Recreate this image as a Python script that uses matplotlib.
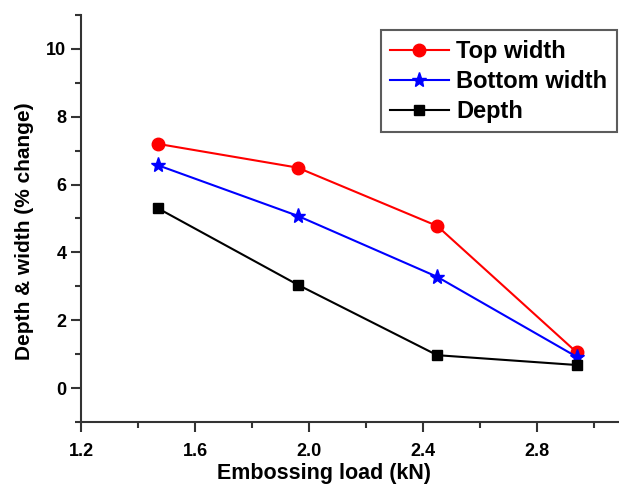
import matplotlib
matplotlib.use("Agg")
import matplotlib.pyplot as plt
from matplotlib.ticker import MultipleLocator

# embossing load (kN) and % change
load = [1.47, 1.96, 2.45, 2.94]
top_width = [7.2, 6.5, 4.78, 1.05]
bottom_width = [6.57, 5.08, 3.28, 0.92]
depth = [5.3, 3.05, 0.97, 0.68]

plt.rcParams['font.family'] = ['Liberation Sans', 'DejaVu Sans']
plt.rcParams['font.weight'] = 'bold'

fig = plt.figure(figsize=(6.19, 4.86), dpi=100)
ax = fig.add_axes([81 / 619, 64 / 486, 1 - 81 / 619, 407 / 486])

ax.plot(load, top_width, color='red', marker='o', markersize=9, lw=1.5, label='Top width')
ax.plot(load, bottom_width, color='blue', marker='*', markersize=11, lw=1.5, label='Bottom width')
ax.plot(load, depth, color='black', marker='s', markersize=7.5, lw=1.5, label='Depth')

ax.set_xlim(1.2, 3.088)
ax.set_ylim(-1, 11)
ax.xaxis.set_minor_locator(MultipleLocator(0.2))
ax.yaxis.set_minor_locator(MultipleLocator(1))
ax.set_xticks([1.2, 1.6, 2.0, 2.4, 2.8])
ax.set_yticks([0, 2, 4, 6, 8, 10])

for s in ['top', 'right']:
    ax.spines[s].set_visible(False)
for s in ['left', 'bottom']:
    ax.spines[s].set_linewidth(1.5)
    ax.spines[s].set_color('#333333')

ax.tick_params(which='major', direction='out', length=7, width=1.5, labelsize=13, colors='#333333', labelcolor='black')
ax.tick_params(axis='x', which='major', pad=8)
ax.tick_params(which='minor', direction='out', length=4, width=1.5, colors='#333333')
for lab in ax.get_xticklabels() + ax.get_yticklabels():
    lab.set_fontweight('bold')

# reference crops the x label at the bottom edge; keep it just inside
ax.set_xlabel('Embossing load (kN)', fontsize=15.5, fontweight='bold')
ax.set_ylabel('Depth & width (% change)', fontsize=15, fontweight='bold')
ax.xaxis.set_label_coords(0.452, -0.1)
ax.yaxis.set_label_coords(-0.088, 0.469)

leg = ax.legend(loc='upper right', bbox_to_anchor=(1.0, 0.968), fontsize=17, frameon=True,
                fancybox=False, edgecolor='#333333', handlelength=2.5, borderpad=0.4,
                labelspacing=0.3, handletextpad=0.3, borderaxespad=0.1)
leg.get_frame().set_linewidth(1.5)
for t in leg.get_texts():
    t.set_fontweight('bold')

fig.savefig('out.png', dpi=100)
